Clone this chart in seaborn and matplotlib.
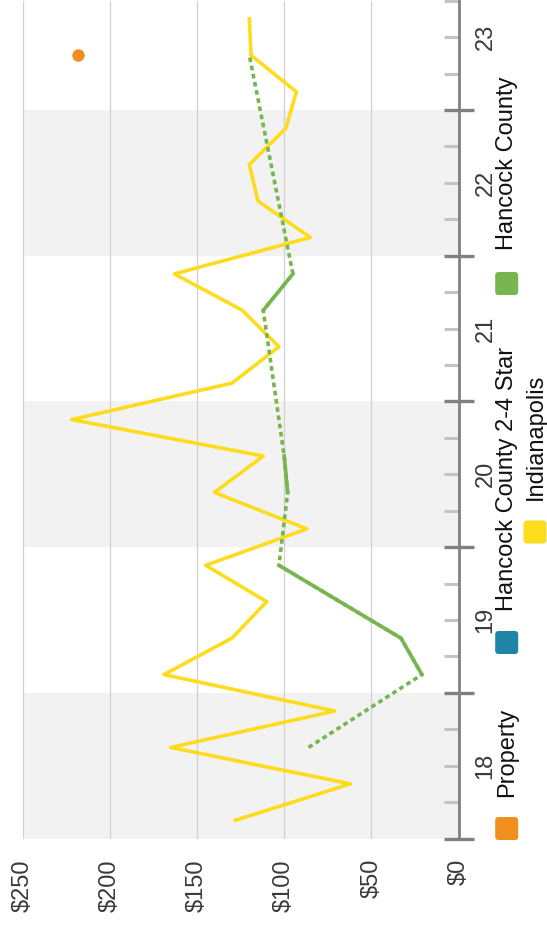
import numpy as np
import pandas as pd
import matplotlib
matplotlib.use("Agg")
import matplotlib.pyplot as plt
import seaborn as sns
from matplotlib.patches import FancyBboxPatch
from matplotlib.ticker import FixedLocator, FuncFormatter, NullFormatter

# ---------------- data ----------------
quarters = ["2018Q1", "2018Q2", "2018Q3", "2018Q4",
            "2019Q1", "2019Q2", "2019Q3", "2019Q4",
            "2020Q1", "2020Q2", "2020Q3", "2020Q4",
            "2021Q1", "2021Q2", "2021Q3", "2021Q4",
            "2022Q1", "2022Q2", "2022Q3", "2022Q4",
            "2023Q1", "2023Q2", "2023Q3"]
nan = np.nan
indianapolis = [128, 62, 165, 71, 169, 130, 110, 145, 87, 140, 112, 222,
                130, 103, 124, 163, 85, 115, 120, 99, 93, 119, 120]
hancock_county = [nan, nan, 86, nan, 21, 33, 68, 103, nan, 98, 100, nan,
                  nan, nan, 112, 95, nan, nan, nan, nan, nan, 120, nan]
hancock_2_4_star = [nan] * 23
property_vals = [nan] * 21 + [218, nan]

year_labels = ["18", "19", "20", "21", "22", "23"]
dollar_ticks = [0, 50, 100, 150, 200, 250]
dollar_labels = ["$0", "$50", "$100", "$150", "$200", "$250"]
shaded_years = [2018, 2020, 2022]

series_names = ["Property", "Hancock County 2-4 Star", "Hancock County", "Indianapolis"]
colors = {"Property": "#f28e1e", "Hancock County 2-4 Star": "#1f84a6",
          "Hancock County": "#77b551", "Indianapolis": "#fcdc1d"}

# quarter -> decimal time (middle of quarter)
def q_to_t(q):
    return int(q[:4]) + (int(q[-1]) - 1) / 4 + 0.125

t = [q_to_t(q) for q in quarters]
df = pd.DataFrame({"t": t, "indy": indianapolis, "hc": hancock_county,
                   "star": hancock_2_4_star, "prop": property_vals})

# ---------------- figure ----------------
plt.rcParams["font.family"] = ["Liberation Sans", "DejaVu Sans"]
W, H = 547, 930
fig = plt.figure(figsize=(W / 100, H / 100), dpi=100)
ax_left, ax_right, ax_top, ax_bot = 22.7, 458.5, 0.7, 838.5
ax = fig.add_axes([ax_left / W, 1 - ax_bot / H, (ax_right - ax_left) / W, (ax_bot - ax_top) / H])

for y0 in shaded_years:
    ax.axhspan(y0, y0 + 1, color="#f2f2f2", lw=0, zorder=0)

lw = 2.6
# Indianapolis
sns.lineplot(data=df, x="indy", y="t", orient="y", estimator=None, sort=True,
             color=colors["Indianapolis"], lw=lw, ax=ax, zorder=3)

# Hancock County: dotted across gaps, solid for consecutive quarters
hc = df[["t", "hc"]].copy()
valid = hc["hc"].notna()
hc["seg"] = (valid != valid.shift()).cumsum()
hc_valid = hc[valid]
sns.lineplot(data=hc_valid, x="hc", y="t", orient="y", estimator=None, sort=True,
             color=colors["Hancock County"], lw=lw, linestyle=(0, (1.3, 1.0)), ax=ax, zorder=4)
sns.lineplot(data=hc_valid, x="hc", y="t", units="seg", orient="y", estimator=None, sort=True,
             color=colors["Hancock County"], lw=lw, ax=ax, zorder=4)

# Property
pr = df[df["prop"].notna()]
sns.scatterplot(data=pr, x="prop", y="t", color=colors["Property"], s=80,
                linewidth=0, ax=ax, zorder=5)

ax.set_xlabel("")
ax.set_ylabel("")
ax.set_xlim(250, 0)
ax.set_ylim(2018, 2023.75)

# value axis (bottom)
ax.set_xticks(dollar_ticks)
ax.set_xticklabels(dollar_labels, rotation=90, va="top", ha="center")
ax.tick_params(axis="x", length=0, pad=14.8, labelsize=17, labelcolor="#3a3a3a")
ax.set_axisbelow(True)
ax.grid(axis="x", color="#d0d0d0", lw=0.9)
ax.grid(axis="y", visible=False)

# time axis (right)
ax.yaxis.tick_right()
year_bounds = list(range(2018, 2024))
quarter_ticks = [y + q / 4 for y in range(2018, 2024) for q in (1, 2, 3)]
quarter_ticks = [v for v in quarter_ticks if v <= 2023.75]
ax.yaxis.set_major_locator(FixedLocator(year_bounds))
ax.yaxis.set_major_formatter(NullFormatter())
ax.yaxis.set_minor_locator(FixedLocator(quarter_ticks))
label_map = {y + 0.5: lab for y, lab in zip(range(2018, 2024), year_labels)}
ax.yaxis.set_minor_formatter(FuncFormatter(
    lambda v, pos: next((lab for k, lab in label_map.items() if abs(k - v) < 1e-6), "")))
ax.tick_params(axis="y", which="major", direction="inout", length=22.3, width=2.4,
               color="#808080", right=True, left=False)
ax.tick_params(axis="y", which="minor", direction="in", length=11, width=2.2,
               color="#c4c4c4", pad=11.6, labelsize=17, labelcolor="#3a3a3a",
               labelrotation=90, right=True, left=False)
for tk in ax.yaxis.get_minor_ticks():
    tk.label2.set_va("center")
    tk.label2.set_ha("left")

for s in ["left", "top", "bottom"]:
    ax.spines[s].set_visible(False)
ax.spines["right"].set_color("#808080")
ax.spines["right"].set_linewidth(2)

# ---------------- legend (rotated, drawn manually) ----------------
# (name, swatch centre x, swatch centre y, text start y, text centre x) in pixels
legend_layout = [
    ("Property", 506.7, 828.5, 797, 507.5),
    ("Hancock County 2-4 Star", 506.7, 642.5, 611, 507.5),
    ("Hancock County", 506.7, 283.5, 250, 507.5),
    ("Indianapolis", 535.0, 532.0, 500, 535.5),
]
sw = 23
for name, cx, cy, ty, tx in legend_layout:
    patch = FancyBboxPatch(((cx - sw / 2) / 100, (H - cy - sw / 2) / 100), sw / 100, sw / 100,
                           boxstyle="round,pad=0,rounding_size=0.035",
                           transform=fig.dpi_scale_trans, facecolor=colors[name],
                           edgecolor="none")
    fig.patches.append(patch)
    fig.text(tx / 100, (H - ty) / 100, name, transform=fig.dpi_scale_trans,
             rotation=90, rotation_mode="anchor", ha="left", va="center",
             fontsize=17, color="#111111")

fig.savefig("out.png", dpi=100)
